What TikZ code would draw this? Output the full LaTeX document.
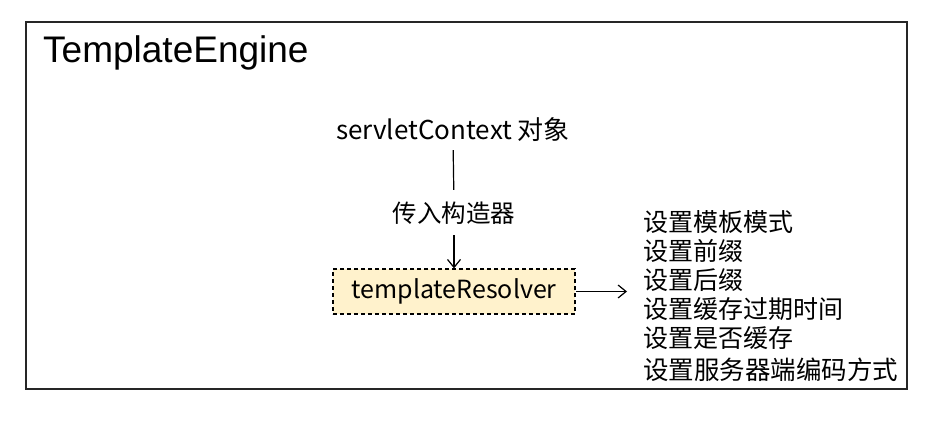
\documentclass[tikz,border=0pt]{standalone}
\usepackage{fontspec}
\setmainfont{Noto Sans CJK SC}
\newfontfamily\titlefont{Liberation Sans}
\usetikzlibrary{arrows.meta}
\definecolor{boxfill}{HTML}{FFF2CC}
\tikzset{
  lbl/.style={inner sep=0pt, text height=18pt, text depth=0pt, font=\fontsize{24.5}{28}\selectfont},
  conn/.style={line width=1.2pt, draw=black},
  arr/.style={conn, -{Straight Barb[length=8pt,width=13pt,line width=1.2pt]}},
  resolver/.style={draw=black, dashed, dash pattern=on 4pt off 3pt, line width=1.2pt, fill=boxfill,
    minimum width=242pt, minimum height=45pt, inner sep=0pt, font=\fontsize{25}{28}\selectfont},
  frame/.style={draw=black!85, line width=1.4pt}
}
\begin{document}
\begin{tikzpicture}[x=1pt,y=-1pt]
\useasboundingbox (0,0) rectangle (942,423);
\draw[frame] (26,22) rectangle (907,389);
\node[anchor=base west, inner sep=0pt, font=\titlefont\fontsize{37}{42}\selectfont] (title) at (43,62) {TemplateEngine};
\node[lbl, font=\fontsize{26}{30}\selectfont] (sc) at (453,130) {servletContext 对象};
\node[lbl] (ctor) at (454,213) {传入构造器};
\node[resolver] (tr) at (454,291.5) {templateResolver};
\node[anchor=west, inner sep=0pt, align=left, font=\fontsize{25}{29}\selectfont] (list) at (643,296)
  {设置模板模式\\设置前缀\\设置后缀\\设置缓存过期时间\\设置是否缓存\\[3pt]{\fontsize{25.5}{29}\selectfont 设置服务器端编码方式}};
\draw[conn, shorten <=11pt, shorten >=14pt] (sc.south) -- (ctor.north);
\draw[arr, shorten <=13pt] (ctor.south) -- (tr.north);
\draw[arr, shorten >=16pt] (tr.east) -- (list.west |- tr.east);
\end{tikzpicture}
\end{document}
